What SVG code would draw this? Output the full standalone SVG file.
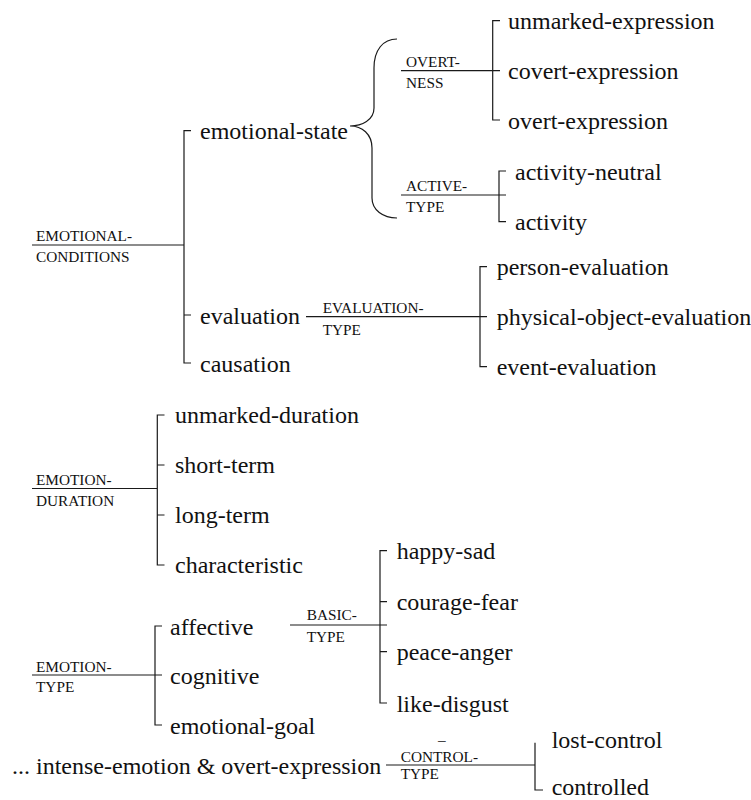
<svg xmlns="http://www.w3.org/2000/svg" width="751" height="800" viewBox="0 0 751 800">
<style>
.t{font-family:"Liberation Serif","Times New Roman",serif;font-size:24px;fill:#111}
.l{font-family:"Liberation Serif","Times New Roman",serif;font-size:15.3px;fill:#111}
.c{stroke:#1a1a1a;stroke-width:1.2;fill:none}
</style>
<rect width="751" height="800" fill="#fff"/>
<g id="connectors">
<path class="c" d="M32,245H184M191,130.7H184V363H191M184,315H191"/>
<path class="c" d="M397,39C383,39 374,50 374,68L374,108C374,120 362,126 350,126C362,126 372,134 372,148L372,198C372,210 383,218 397,218"/>
<path class="c" d="M401,70.7H500M500,20.7H492.7V120H500"/>
<path class="c" d="M401,195H506M506,171H499V221.7H506"/>
<path class="c" d="M306,316.7H487M487,266.7H480V366.7H487"/>
<path class="c" d="M32,488.5H157.3M164.5,415H157.3V565H164.5M157.3,465H164.5M157.3,515H164.5"/>
<path class="c" d="M32,675H162M162,626H155V725H162"/>
<path class="c" d="M290,625H387M387,550.7H380V703H387M380,601.7H387M380,651.7H387"/>
<path class="c" d="M386,765H535M535,742.7V790H543"/>
</g>
<g id="emotional-conditions"><text class="l" x="36" y="241">EMOTIONAL-</text><text class="l" x="36" y="262">CONDITIONS</text></g>
<g id="emotional-state"><text class="t" x="200" y="139">emotional-state</text></g>
<g id="evaluation"><text class="t" x="200" y="323.5">evaluation</text></g>
<g id="causation"><text class="t" x="200" y="371.5">causation</text></g>
<g id="overtness"><text class="l" x="406" y="66.5">OVERT-</text><text class="l" x="406" y="88">NESS</text></g>
<g id="unmarked-expression"><text class="t" x="508" y="29">unmarked-expression</text></g>
<g id="covert-expression"><text class="t" x="508" y="79">covert-expression</text></g>
<g id="overt-expression"><text class="t" x="508" y="128.5">overt-expression</text></g>
<g id="active-type"><text class="l" x="406" y="190.7">ACTIVE-</text><text class="l" x="406" y="212.3">TYPE</text></g>
<g id="activity-neutral"><text class="t" x="515" y="179.5">activity-neutral</text></g>
<g id="activity"><text class="t" x="515" y="230">activity</text></g>
<g id="evaluation-type"><text class="l" x="322.7" y="313.3">EVALUATION-</text><text class="l" x="322.7" y="335">TYPE</text></g>
<g id="person-evaluation"><text class="t" x="496.7" y="275">person-evaluation</text></g>
<g id="physical-object-evaluation"><text class="t" x="496.7" y="325">physical-object-evaluation</text></g>
<g id="event-evaluation"><text class="t" x="496.7" y="375">event-evaluation</text></g>
<g id="emotion-duration"><text class="l" x="36" y="485">EMOTION-</text><text class="l" x="36" y="506">DURATION</text></g>
<g id="unmarked-duration"><text class="t" x="175" y="423.3">unmarked-duration</text></g>
<g id="short-term"><text class="t" x="175" y="472.7">short-term</text></g>
<g id="long-term"><text class="t" x="175" y="522.7">long-term</text></g>
<g id="characteristic"><text class="t" x="175" y="572.7">characteristic</text></g>
<g id="emotion-type"><text class="l" x="36" y="671.7">EMOTION-</text><text class="l" x="36" y="691.7">TYPE</text></g>
<g id="affective"><text class="t" x="170" y="634.5">affective</text></g>
<g id="cognitive"><text class="t" x="170" y="683.5">cognitive</text></g>
<g id="emotional-goal"><text class="t" x="170" y="733.5">emotional-goal</text></g>
<g id="basic-type"><text class="l" x="306.7" y="620">BASIC-</text><text class="l" x="306.7" y="641.7">TYPE</text></g>
<g id="happy-sad"><text class="t" x="396.7" y="559">happy-sad</text></g>
<g id="courage-fear"><text class="t" x="396.7" y="610">courage-fear</text></g>
<g id="peace-anger"><text class="t" x="396.7" y="660">peace-anger</text></g>
<g id="like-disgust"><text class="t" x="396.7" y="711.5">like-disgust</text></g>
<g id="intense-emotion"><text class="t" x="12" y="774">... intense-emotion &amp; overt-expression</text></g>
<g id="control-type"><text class="l" x="438" y="745">–</text><text class="l" x="400.7" y="761.7">CONTROL-</text><text class="l" x="400.7" y="779.3">TYPE</text></g>
<g id="lost-control"><text class="t" x="551.7" y="748.3">lost-control</text></g>
<g id="controlled"><text class="t" x="551.7" y="794.5">controlled</text></g>
</svg>
